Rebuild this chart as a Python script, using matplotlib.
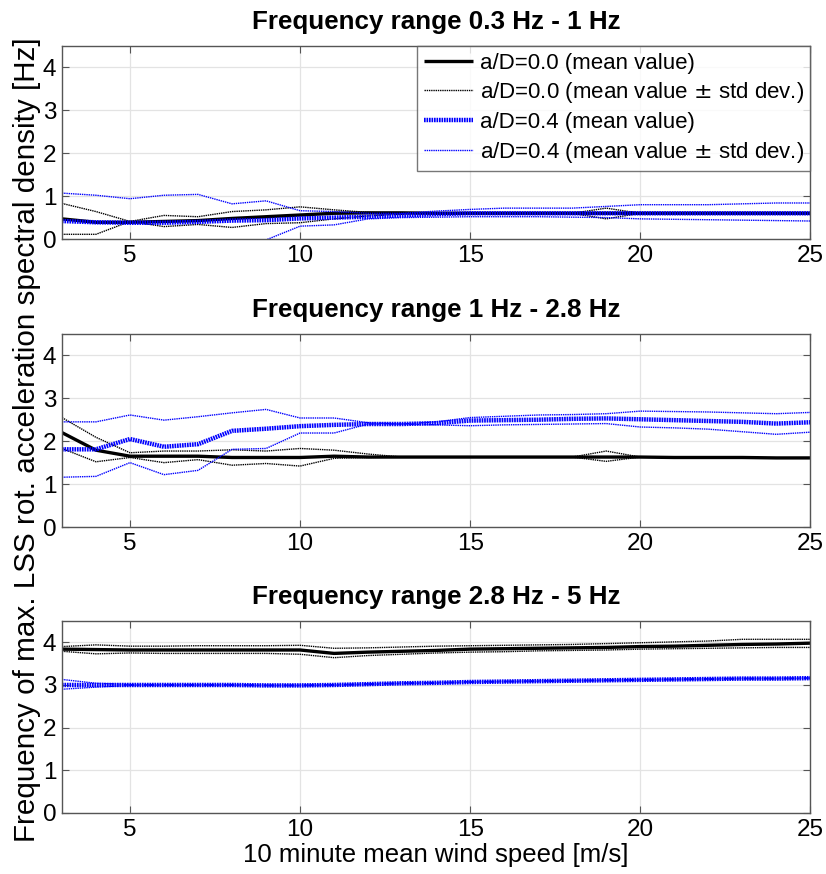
import matplotlib
matplotlib.use("Agg")
import matplotlib.pyplot as plt
import numpy as np

plt.rcParams['font.family'] = ['Liberation Sans', 'DejaVu Sans']
plt.rcParams['lines.scale_dashes'] = False

wind = np.arange(3, 26)

titles = ["Frequency range 0.3 Hz - 1 Hz",
          "Frequency range 1 Hz - 2.8 Hz",
          "Frequency range 2.8 Hz - 5 Hz"]

# panel 1
black_mean_1 = [0.47, 0.39, 0.39, 0.41, 0.43, 0.48, 0.52, 0.56, 0.60, 0.61, 0.61, 0.60,
                0.60, 0.60, 0.60, 0.60, 0.60, 0.60, 0.60, 0.60, 0.60, 0.60, 0.60]
black_up_1 = [0.83, 0.64, 0.41, 0.55, 0.52, 0.64, 0.68, 0.75, 0.68, 0.62, 0.60, 0.60,
              0.60, 0.60, 0.60, 0.60, 0.72, 0.60, 0.60, 0.60, 0.60, 0.60, 0.60]
black_lo_1 = [0.11, 0.11, 0.41, 0.29, 0.34, 0.27, 0.36, 0.38, 0.47, 0.54, 0.58, 0.60,
              0.60, 0.60, 0.60, 0.60, 0.47, 0.60, 0.60, 0.60, 0.60, 0.60, 0.60]
blue_mean_1 = [0.42, 0.39, 0.38, 0.38, 0.40, 0.43, 0.44, 0.48, 0.50, 0.52, 0.55, 0.58,
               0.60, 0.60, 0.60, 0.60, 0.60, 0.60, 0.60, 0.60, 0.60, 0.60, 0.60]
blue_up_1 = [1.07, 1.02, 0.94, 1.02, 1.04, 0.82, 0.89, 0.66, 0.64, 0.60, 0.60, 0.65,
             0.69, 0.72, 0.72, 0.72, 0.76, 0.80, 0.80, 0.80, 0.82, 0.84, 0.84]
blue_lo_1 = [-0.25, -0.30, -0.20, -0.25, -0.30, -0.35, -0.02, 0.30, 0.33, 0.47, 0.50, 0.51,
             0.52, 0.52, 0.52, 0.51, 0.50, 0.47, 0.46, 0.45, 0.44, 0.43, 0.42]

# panel 2
black_mean_2 = [2.20, 1.79, 1.65, 1.65, 1.65, 1.62, 1.62, 1.62, 1.65, 1.63, 1.63, 1.63,
                1.63, 1.63, 1.63, 1.63, 1.63, 1.63, 1.62, 1.62, 1.62, 1.61, 1.61]
black_up_2 = [2.55, 2.09, 1.73, 1.77, 1.77, 1.80, 1.77, 1.83, 1.79, 1.70, 1.63, 1.63,
              1.63, 1.63, 1.63, 1.63, 1.77, 1.63, 1.62, 1.62, 1.62, 1.61, 1.61]
black_lo_2 = [1.83, 1.52, 1.62, 1.50, 1.57, 1.44, 1.48, 1.42, 1.60, 1.62, 1.63, 1.63,
              1.63, 1.63, 1.63, 1.63, 1.53, 1.63, 1.62, 1.62, 1.62, 1.61, 1.61]
blue_mean_2 = [1.81, 1.81, 2.05, 1.87, 1.93, 2.24, 2.29, 2.35, 2.38, 2.40, 2.40, 2.42,
               2.48, 2.49, 2.50, 2.52, 2.53, 2.51, 2.49, 2.47, 2.45, 2.41, 2.44]
blue_up_2 = [2.45, 2.45, 2.61, 2.49, 2.57, 2.66, 2.74, 2.54, 2.54, 2.43, 2.40, 2.45,
             2.55, 2.58, 2.61, 2.62, 2.64, 2.70, 2.69, 2.68, 2.66, 2.64, 2.67]
blue_lo_2 = [1.16, 1.18, 1.50, 1.22, 1.32, 1.81, 1.83, 2.19, 2.19, 2.40, 2.40, 2.38,
             2.36, 2.38, 2.39, 2.40, 2.41, 2.33, 2.31, 2.28, 2.22, 2.16, 2.21]

# panel 3
black_mean_3 = [3.84, 3.83, 3.82, 3.82, 3.82, 3.82, 3.82, 3.82, 3.74, 3.77, 3.79, 3.81,
                3.84, 3.85, 3.86, 3.87, 3.88, 3.90, 3.91, 3.93, 3.95, 3.96, 3.98]
black_up_3 = [3.90, 3.94, 3.91, 3.91, 3.92, 3.92, 3.92, 3.93, 3.86, 3.87, 3.89, 3.91,
              3.92, 3.93, 3.94, 3.95, 3.97, 3.99, 4.01, 4.03, 4.07, 4.07, 4.07]
black_lo_3 = [3.79, 3.73, 3.75, 3.74, 3.74, 3.74, 3.74, 3.72, 3.64, 3.69, 3.72, 3.75,
              3.77, 3.78, 3.80, 3.81, 3.82, 3.84, 3.85, 3.86, 3.87, 3.88, 3.88]
blue_mean_3 = [3.00, 3.00, 3.00, 3.00, 3.00, 3.00, 2.99, 2.99, 3.00, 3.02, 3.04, 3.05,
               3.07, 3.08, 3.09, 3.10, 3.11, 3.12, 3.13, 3.14, 3.15, 3.15, 3.16]
blue_up_3 = [3.13, 3.04, 3.01, 3.01, 3.01, 3.01, 3.00, 3.00, 3.01, 3.03, 3.05, 3.06,
             3.08, 3.09, 3.10, 3.11, 3.12, 3.13, 3.14, 3.15, 3.16, 3.16, 3.17]
blue_lo_3 = [2.90, 2.95, 2.99, 2.99, 2.99, 2.99, 2.98, 2.98, 2.99, 3.01, 3.03, 3.04,
             3.06, 3.07, 3.08, 3.09, 3.10, 3.11, 3.12, 3.13, 3.14, 3.14, 3.15]

panels = [
    (black_mean_1, black_up_1, black_lo_1, blue_mean_1, blue_up_1, blue_lo_1),
    (black_mean_2, black_up_2, black_lo_2, blue_mean_2, blue_up_2, blue_lo_2),
    (black_mean_3, black_up_3, black_lo_3, blue_mean_3, blue_up_3, blue_lo_3),
]

fig = plt.figure(figsize=(8.26, 8.74), dpi=100)
boxes = [[0.075, 0.7265, 0.906, 0.221],
         [0.075, 0.397, 0.906, 0.221],
         [0.075, 0.0698, 0.906, 0.2197]]

thin_dots = (0, (1.0, 0.6))
thick_dots = (0, (1.2, 0.6))

for i, (bm, bu, bl, um, uu, ul) in enumerate(panels):
    ax = fig.add_axes(boxes[i])
    ax.plot(wind, bm, color='black', lw=2.4, solid_capstyle='butt', label='a/D=0.0 (mean value)')
    ax.plot(wind, bu, color='black', lw=1.0, ls=thin_dots, label=r'a/D=0.0 (mean value $\pm$ std dev.)')
    ax.plot(wind, bl, color='black', lw=1.0, ls=thin_dots)
    ax.plot(wind, um, color='blue', lw=3.2, ls=thick_dots, label='a/D=0.4 (mean value)')
    ax.plot(wind, uu, color='blue', lw=1.0, ls=thin_dots, label=r'a/D=0.4 (mean value $\pm$ std dev.)')
    ax.plot(wind, ul, color='blue', lw=1.0, ls=thin_dots)
    ax.set_xlim(3, 25)
    ax.set_ylim(0, 4.5)
    ax.set_xticks([5, 10, 15, 20, 25])
    ax.set_yticks([0, 1, 2, 3, 4])
    ax.grid(True, color='#e3e3e3', lw=0.9)
    ax.set_axisbelow(True)
    ax.tick_params(direction='in', top=True, right=True, labelsize=17.5, length=5,
                   color='#555555', pad=4)
    for s in ax.spines.values():
        s.set_color('#555555')
        s.set_linewidth(1.0)
    ax.set_title(titles[i], fontsize=18.7, fontweight='bold', pad=12)
    if i == 0:
        leg = ax.legend(loc='upper right', fontsize=16, frameon=True, fancybox=False,
                        edgecolor='#555555', handlelength=2.2, handletextpad=0.3,
                        labelspacing=0.3, borderaxespad=0.0, borderpad=0.3)
        leg.get_frame().set_linewidth(1.0)
    if i == 2:
        ax.set_xlabel('10 minute mean wind speed [m/s]', fontsize=18.5, labelpad=2)

fig.text(0.033, 0.497, 'Frequency of max. LSS rot. acceleration spectral density [Hz]',
         rotation=90, ha='center', va='center', fontsize=21.3)

plt.savefig('out.png', dpi=100)
plt.close()
